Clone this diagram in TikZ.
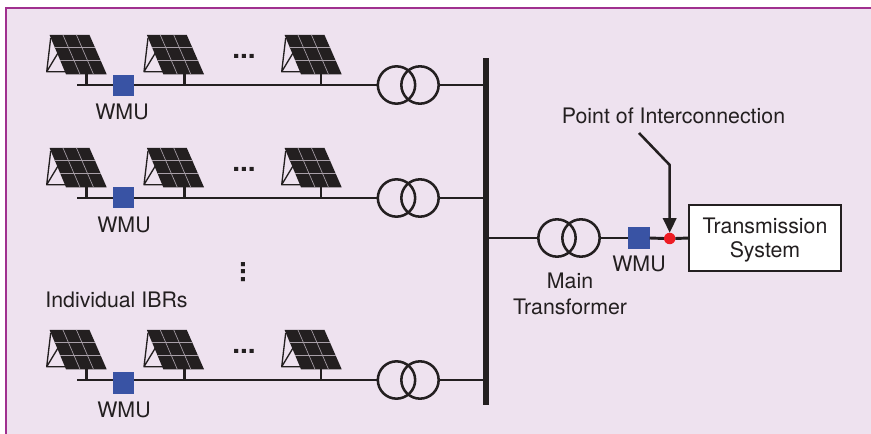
\documentclass[tikz,border=0pt]{standalone}
\usepackage{fontspec}
\setmainfont{TeX Gyre Heros}
\usetikzlibrary{arrows.meta}
\definecolor{bgpanel}{HTML}{EEE2EF}
\definecolor{framec}{HTML}{A0308F}
\definecolor{inkc}{HTML}{231F20}
\definecolor{bluec}{HTML}{3953A4}
\definecolor{redc}{HTML}{ED1C24}
\definecolor{gapc}{HTML}{A89FA8}
\tikzset{
 wire/.style={draw=inkc,line width=2.2pt},
 thin wire/.style={draw=inkc,line width=1.9pt},
 wmu/.style={fill=bluec,draw=none,minimum size=15.8pt,inner sep=0pt,outer sep=0pt},
 coil/.style={circle,draw=inkc,line width=1.9pt,minimum size=28pt,inner sep=0pt,outer sep=0pt},
 lbl/.style={text=inkc,font=\fontsize{16}{16}\selectfont,inner sep=0pt,outer sep=0pt},
 dotsl/.style={text=inkc,font=\fontsize{21}{21}\selectfont\bfseries,inner sep=0pt,outer sep=0pt},
 sysbox/.style={draw=inkc,fill=white,line width=2.1pt,minimum width=114pt,minimum height=49.5pt,inner sep=0pt,outer sep=0pt},
 poi/.style={circle,fill=redc,minimum size=8.6pt,inner sep=0pt,outer sep=0pt},
}
\newcommand{\solar}[2]{%
 \begin{scope}[shift={(#1,#2)}]
  \draw[draw=inkc,line width=1pt,line join=round] (50.7,38) -- (46.7,71.7) -- (66,71.7) (46.7,71.7) -- (58,53);
  \fill[inkc] (49.6,35) -- (89.5,35) -- (106.7,74.3) -- (66,74.3) -- cycle;
  \draw[gapc,line width=0.5pt] (54.5,47.5) -- (95,47.5) (60,60.5) -- (100.8,60.5)
    (63,35) -- (80,74.3) (76.5,35) -- (93.5,74.3);
 \end{scope}}
\newcommand{\pvrow}[1]{\solar{0}{#1}\solar{97.3}{#1}\solar{235}{#1}}
\begin{document}
\begin{tikzpicture}[x=0.75pt,y=-0.75pt]
\useasboundingbox (0,0) rectangle (871,434);
\fill[white] (0,0) rectangle (871,434);
\fill[bgpanel] (6,8) rectangle (871,434);
\draw[framec,line width=1.8pt] (6,434) -- (6,8) -- (871,8);

% solar panels
\pvrow{0}\pvrow{113}\pvrow{295}

% main bus
\node[fill=inkc,minimum width=4.6pt,minimum height=260pt,inner sep=0pt,outer sep=0pt] (bus) at (486,231.5) {};

% row 1
\coordinate (s1) at (77,85);
\node[coil] (ta1) at (396.5,85) {};
\node[coil] (tb1) at (420,85) {};
\draw[wire] (s1) -- (ta1.west);
\draw[wire] (tb1.east) -- (tb1.east -| bus.west);
\node[wmu] (w1) at (123.5,85.5) {};
\foreach \x in {86.7,184.7,321}{\coordinate (p) at (\x,74); \coordinate (q) at (\x,85); \draw[wire] (p) -- (q);}
\node[lbl] (lw1) at (122,112) {WMU};
\node[dotsl] (d1) at (244,56) {...};

% row 2
\coordinate (s2) at (77,198);
\node[coil] (ta2) at (396.5,198) {};
\node[coil] (tb2) at (420,198) {};
\draw[wire] (s2) -- (ta2.west);
\draw[wire] (tb2.east) -- (tb2.east -| bus.west);
\node[wmu] (w2) at (123.5,197.5) {};
\foreach \x in {86.7,184.7,321}{\coordinate (p) at (\x,187); \coordinate (q) at (\x,198); \draw[wire] (p) -- (q);}
\node[lbl] (lw2) at (124,225) {WMU};
\node[dotsl] (d2) at (244,169) {...};

% vertical dots
\node[dotsl,rotate=90] (dv) at (243,272) {...};
\node[lbl] (ibr) at (116.5,300) {Individual IBRs};

% row 3
\coordinate (s3) at (77,380);
\node[coil] (ta3) at (396.5,380) {};
\node[coil] (tb3) at (420,380) {};
\draw[wire] (s3) -- (ta3.west);
\draw[wire] (tb3.east) -- (tb3.east -| bus.west);
\node[wmu] (w3) at (123.5,383) {};
\foreach \x in {86.7,184.7,321}{\coordinate (p) at (\x,369); \coordinate (q) at (\x,380); \draw[wire] (p) -- (q);}
\node[lbl] (lw3) at (124,410) {WMU};
\node[dotsl] (d3) at (244,351) {...};

% main transformer branch
\node[coil] (tam) at (557,238) {};
\node[coil] (tbm) at (581,238) {};
\node[wmu] (wm) at (639,238) {};
\node[poi] (pt) at (669.7,238.5) {};
\node[sysbox] (sys) at (765,238) {};
\node[lbl] (st1) at (765,225.5) {Transmission};
\node[lbl] (st2) at (765,251.5) {System};
\draw[wire] (bus.east |- tam.west) -- (tam.west);
\draw[wire] (tbm.east) -- (wm.west);
\draw[wire] (wm.east) -- (pt.west);
\draw[wire] (pt.east) -- (sys.west);
\node[lbl] (lm1) at (639,264) {WMU};
\node[lbl] (lm2) at (570,281) {Main};
\node[lbl] (lm3) at (570,307) {Transformer};
\node[lbl] (lpoi) at (673.5,116) {Point of Interconnection};
\coordinate (bend) at (669.7,165);
\coordinate (lead) at (639,133);
\draw[thin wire,-{Triangle[length=11pt,width=10pt]}] (lead) -- (bend) -- (pt.north);
\end{tikzpicture}
\end{document}
